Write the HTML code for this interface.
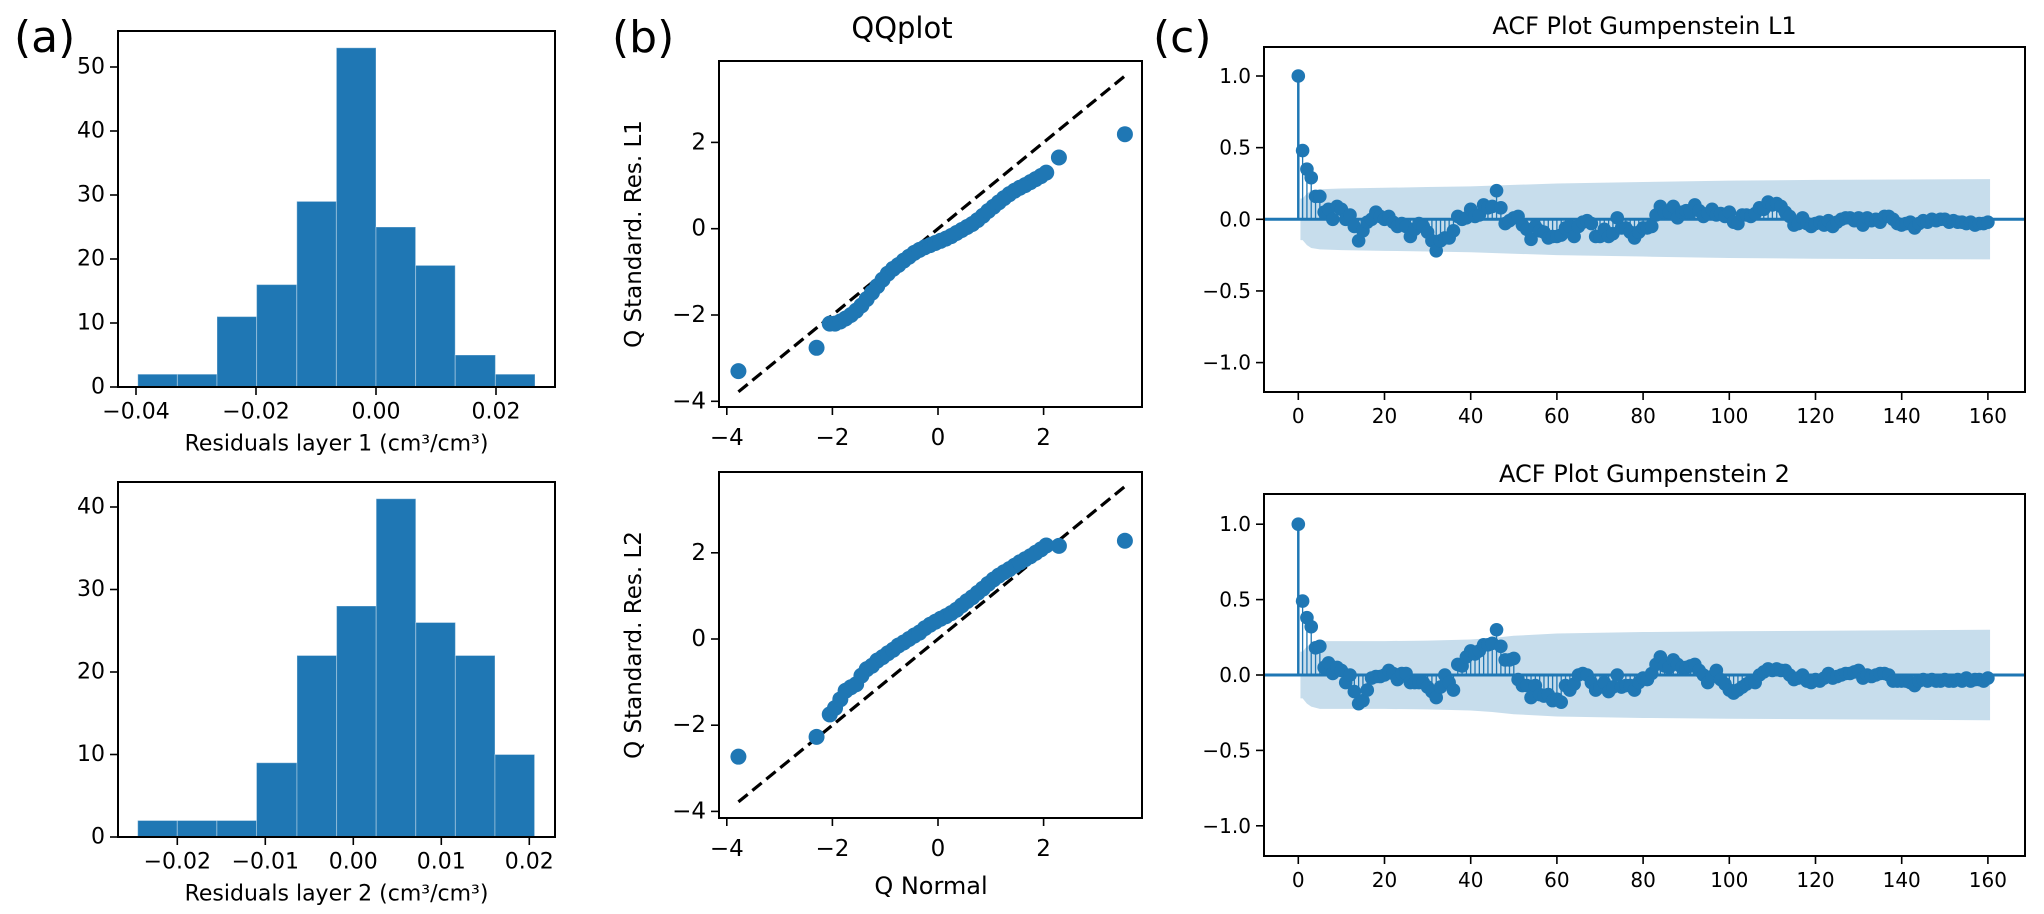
<!DOCTYPE html>
<html><head><meta charset="utf-8"><style>
html,body{margin:0;padding:0;background:#fff;}
svg{display:block;font-family:"DejaVu Sans","Liberation Sans",sans-serif;}
</style></head><body>
<svg id="fig" width="2044" height="914" viewBox="0 0 2044 914" xmlns="http://www.w3.org/2000/svg">
<text x="14" y="52" font-size="44">(a)</text>
<text x="612" y="52" font-size="44">(b)</text>
<text x="1153" y="52" font-size="44">(c)</text>
</svg>
<script>
// ---------- data ----------
const hist1Edges = [-0.0397,-0.0331,-0.0265,-0.0199,-0.0132,-0.0066,0.0000,0.0066,0.0132,0.0199,0.0265];
const hist1Counts = [2,2,11,16,29,53,25,19,5,2];
const hist2Edges = [-0.0245,-0.0200,-0.0155,-0.0110,-0.0064,-0.0019,0.0026,0.0071,0.0116,0.0161,0.0206];
const hist2Counts = [2,2,2,9,22,28,41,26,22,10];
const hist1XTicks = [-0.04,-0.02,0.00,0.02];
const hist1XTickLabels = ["−0.04","−0.02","0.00","0.02"];
const hist1YTicks = [0,10,20,30,40,50];
const hist2XTicks = [-0.02,-0.01,0.00,0.01,0.02];
const hist2XTickLabels = ["−0.02","−0.01","0.00","0.01","0.02"];
const hist2YTicks = [0,10,20,30,40];

const qq1X = [-3.78,-2.30,-2.05,-1.95,-1.85,-1.75,-1.65,-1.55,-1.45,-1.35,-1.25,-1.15,-1.05,-0.95,-0.85,-0.75,-0.65,-0.55,-0.45,-0.35,-0.25,-0.15,-0.05,0.05,0.15,0.25,0.35,0.45,0.55,0.65,0.75,0.85,0.95,1.05,1.15,1.25,1.35,1.45,1.55,1.65,1.75,1.85,1.95,2.05,2.29,3.54];
const qq1Y = [-3.30,-2.76,-2.2,-2.2,-2.15,-2.08,-2.0,-1.9,-1.78,-1.63,-1.48,-1.33,-1.18,-1.04,-0.93,-0.84,-0.74,-0.65,-0.56,-0.49,-0.43,-0.38,-0.33,-0.28,-0.23,-0.17,-0.1,-0.03,0.04,0.11,0.2,0.3,0.41,0.51,0.61,0.71,0.8,0.88,0.95,1.01,1.08,1.15,1.22,1.3,1.65,2.19];
const qq2X = [-3.78,-2.30,-2.05,-1.95,-1.85,-1.75,-1.65,-1.55,-1.45,-1.35,-1.25,-1.15,-1.05,-0.95,-0.85,-0.75,-0.65,-0.55,-0.45,-0.35,-0.25,-0.15,-0.05,0.05,0.15,0.25,0.35,0.45,0.55,0.65,0.75,0.85,0.95,1.05,1.15,1.25,1.35,1.45,1.55,1.65,1.75,1.85,1.95,2.05,2.29,3.54];
const qq2Y = [-2.73,-2.27,-1.75,-1.6,-1.4,-1.2,-1.12,-1.05,-0.85,-0.7,-0.62,-0.5,-0.42,-0.33,-0.25,-0.15,-0.08,0.0,0.08,0.15,0.25,0.33,0.4,0.47,0.53,0.6,0.68,0.78,0.88,0.97,1.07,1.17,1.28,1.38,1.47,1.55,1.62,1.7,1.78,1.85,1.92,2.0,2.08,2.17,2.16,2.28];
const qqLine = [-3.78,3.54];
const qqTicks = [-4,-2,0,2];
const qqTickLabels = ["−4","−2","0","2"];

const acf1 = [1.0,0.48,0.35,0.29,0.16,0.16,0.05,0.07,0.0,0.09,0.07,0.0,0.03,-0.05,-0.15,-0.08,-0.02,0.0,0.05,0.02,
0.0,0.02,-0.02,-0.05,-0.03,-0.05,-0.12,-0.07,-0.03,-0.05,-0.09,-0.15,-0.22,-0.15,-0.13,-0.13,-0.08,0.02,0.0,0.01,
0.07,0.02,0.03,0.1,0.08,0.09,0.2,0.08,-0.03,-0.01,0.01,0.02,-0.04,-0.07,-0.14,-0.05,-0.08,-0.09,-0.13,-0.12,
-0.12,-0.11,-0.06,-0.05,-0.12,-0.05,-0.02,-0.01,-0.03,-0.12,-0.12,-0.07,-0.12,-0.1,0.01,-0.06,-0.06,-0.09,-0.13,-0.09,
-0.06,-0.06,-0.05,0.03,0.09,0.05,0.05,0.09,0.01,0.05,0.06,0.05,0.1,0.06,0.02,0.04,0.07,0.03,0.04,0.02,
0.05,-0.02,-0.03,0.03,0.03,0.02,0.04,0.08,0.07,0.12,0.1,0.11,0.09,0.05,0.02,-0.04,-0.03,0.01,-0.03,-0.05,
-0.03,-0.02,-0.04,-0.01,-0.05,-0.02,0.0,0.01,0.01,-0.01,0.01,-0.04,0.01,-0.01,0.0,-0.02,0.02,0.02,0.0,-0.03,
-0.04,-0.03,-0.02,-0.06,-0.03,-0.01,-0.02,0.0,-0.01,0.0,0.0,-0.02,-0.01,-0.02,-0.02,-0.03,-0.02,-0.04,-0.03,-0.03,-0.02];
const acf2 = [1.0,0.49,0.38,0.32,0.18,0.19,0.05,0.08,0.01,0.05,0.03,-0.05,0.0,-0.11,-0.19,-0.17,-0.1,-0.02,-0.01,-0.01,
0.0,0.03,0.01,-0.03,0.01,0.01,-0.05,-0.05,-0.05,-0.05,-0.08,-0.11,-0.15,-0.08,0.0,-0.05,-0.1,0.07,0.06,0.12,
0.16,0.14,0.16,0.2,0.2,0.21,0.3,0.19,0.1,0.1,0.11,-0.03,-0.07,-0.07,-0.15,-0.07,-0.13,-0.14,-0.13,-0.17,
-0.16,-0.18,-0.07,-0.1,-0.06,0.0,0.01,0.0,-0.05,-0.1,-0.08,-0.05,-0.11,-0.08,0.0,-0.08,-0.07,-0.07,-0.1,-0.05,
-0.02,-0.03,0.01,0.07,0.12,0.06,0.05,0.1,0.07,0.05,0.05,0.06,0.07,0.03,0.0,-0.05,-0.01,0.03,-0.03,-0.06,
-0.1,-0.12,-0.1,-0.08,-0.06,-0.04,-0.05,0.0,0.02,0.04,0.03,0.04,0.03,0.03,0.0,-0.03,-0.02,0.0,-0.04,-0.05,
-0.03,-0.04,-0.02,0.01,-0.02,-0.01,0.0,0.01,0.01,0.02,0.03,-0.02,0.0,-0.01,0.0,0.01,0.01,0.0,-0.04,-0.04,
-0.04,-0.04,-0.05,-0.07,-0.04,-0.03,-0.04,-0.03,-0.04,-0.04,-0.03,-0.04,-0.04,-0.03,-0.04,-0.02,-0.04,-0.03,-0.03,-0.04,-0.02];
const band1Lags = [0.5,1,2,3,5,10,20,30,40,50,60,80,100,120,160,160.5];
const band1Half = [0.145,0.145,0.18,0.2,0.21,0.215,0.22,0.225,0.23,0.24,0.25,0.26,0.27,0.275,0.28,0.28];
const band2Lags = [0.5,1,2,3,5,10,20,30,40,45,50,60,80,100,160,160.5];
const band2Half = [0.155,0.155,0.19,0.21,0.225,0.225,0.225,0.228,0.235,0.245,0.26,0.275,0.285,0.29,0.30,0.30];
const acfXTicks = [0,20,40,60,80,100,120,140,160];
const acfYTicks = [1.0,0.5,0.0,-0.5,-1.0];
const acfYTickLabels = ["1.0","0.5","0.0","−0.5","−1.0"];

// ---------- drawing ----------
const NS = "http://www.w3.org/2000/svg";
const svg = document.getElementById("fig");
const BLUE = "#1f77b4";
function mk(tag, attrs, parent){
  const e = document.createElementNS(NS, tag);
  for (const k in attrs) e.setAttribute(k, attrs[k]);
  (parent||svg).appendChild(e);
  return e;
}
function txt(s, x, y, size, anchor, parent){
  const t = mk("text", {x:x, y:y, "font-size":size, "text-anchor":anchor||"middle", "dominant-baseline":"central", fill:"#000"}, parent);
  t.textContent = s;
  return t;
}
function frame(g, x0, y0, x1, y1){
  const r = mk("rect", {x:x0, y:y0, width:x1-x0, height:y1-y0, fill:"none", stroke:"#000", "stroke-width":2}, g);
  
  
}
function xTicks(g, vals, labels, sx, yb, size, dy){
  vals.forEach((v,i)=>{
    const x = sx(v);
    const l = mk("line", {x1:x, x2:x, y1:yb, y2:yb+8, stroke:"#000", "stroke-width":1.6}, g);
    
    
    const t = txt(labels[i], x, yb+dy, size, "middle", g);
    
    
  });
}
function yTicks(g, vals, labels, sy, xl, size){
  vals.forEach((v,i)=>{
    const y = sy(v);
    const l = mk("line", {x1:xl-8, x2:xl, y1:y, y2:y, stroke:"#000", "stroke-width":1.6}, g);
    
    
    const t = txt(labels[i], xl-13, y, size, "end", g);
    
    
  });
}

// Histograms
function hist(name, edges, counts, sx, sy, box, xt, xtl, yt, xlabel, tickY, labelY){
  const g = mk("g", {});
  
  
  counts.forEach((c,i)=>{
    const x0 = sx(edges[i]), x1 = sx(edges[i+1]);
    const r = mk("rect", {x:x0, y:sy(c), width:x1-x0, height:sy(0)-sy(c), fill:BLUE, stroke:"rgba(255,255,255,0.35)", "stroke-width":1}, g);
    
    
  });
  frame(g, box[0], box[1], box[2], box[3]);
  xTicks(g, xt, xtl, sx, box[3], 22, tickY);
  yTicks(g, yt, yt.map(String), sy, box[0], 22);
  const xl = txt(xlabel, (box[0]+box[2])/2, labelY, 22, "middle", g);
  
  
}
hist("histogram-layer-1", hist1Edges, hist1Counts, v=>376+v*6000, c=>387-c*6.4, [118,31,555,387],
  hist1XTicks, hist1XTickLabels, hist1YTicks, "Residuals layer 1 (cm³/cm³)", 25, 444);
hist("histogram-layer-2", hist2Edges, hist2Counts, v=>353.3+v*8800, c=>837-c*8.25, [118,482,555,837],
  hist2XTicks, hist2XTickLabels, hist2YTicks, "Residuals layer 2 (cm³/cm³)", 25, 894);

// QQ plots
function qq(name, xs, ys, sx, sy, box, ylabel, tickDy){
  const g = mk("g", {});
  
  
  const ln = mk("line", {x1:sx(qqLine[0]), y1:sy(qqLine[0]), x2:sx(qqLine[1]), y2:sy(qqLine[1]), stroke:"#000", "stroke-width":3.2, "stroke-dasharray":"12,6"}, g);
  
  
  xs.forEach((x,i)=>{
    const c = mk("circle", {cx:sx(x), cy:sy(ys[i]), r:8, fill:BLUE}, g);
    
    
  });
  frame(g, box[0], box[1], box[2], box[3]);
  xTicks(g, qqTicks, qqTickLabels, sx, box[3], 23, tickDy);
  yTicks(g, qqTicks, qqTickLabels, sy, box[0], 23);
  const yl = txt(ylabel, 0, 0, 23, "middle", g);
  yl.setAttribute("transform", "translate(634," + ((box[1]+box[3])/2) + ") rotate(-90)");
  
  
}
const qsx = v=>938+v*52.8;
qq("qq-plot-l1", qq1X, qq1Y, qsx, v=>228.7-v*43.15, [719,61,1142,407], "Q Standard. Res. L1", 31);
qq("qq-plot-l2", qq2X, qq2Y, qsx, v=>639-v*43.1, [719,472,1142,818], "Q Standard. Res. L2", 31);
const qt = txt("QQplot", 902, 28, 29, "middle");


const qxl = txt("Q Normal", 931, 886, 24, "middle");



// ACF plots
function acfPlot(name, vals, bl, bh, sy, box, title, titleY){
  const sx = l=>1298.3+l*4.31;
  const g = mk("g", {});
  
  
  let pts = bl.map((l,i)=>sx(l)+","+sy(bh[i]));
  for (let i=bl.length-1;i>=0;i--) pts.push(sx(bl[i])+","+sy(-bh[i]));
  const band = mk("polygon", {points:pts.join(" "), fill:BLUE, "fill-opacity":0.25}, g);
  
  
  const base = mk("line", {x1:box[0], x2:box[2], y1:sy(0), y2:sy(0), stroke:BLUE, "stroke-width":3}, g);
  
  
  vals.forEach((v,i)=>{
    const s = mk("line", {x1:sx(i), x2:sx(i), y1:sy(0), y2:sy(v), stroke:BLUE, "stroke-width":i===0?2.5:1.3}, g);
    
    
  });
  vals.forEach((v,i)=>{
    const c = mk("circle", {cx:sx(i), cy:sy(v), r:6.8, fill:BLUE}, g);
    
    
  });
  frame(g, box[0], box[1], box[2], box[3]);
  xTicks(g, acfXTicks, acfXTicks.map(String), sx, box[3], 20, 24);
  yTicks(g, acfYTicks, acfYTickLabels, sy, box[0], 20);
  const t = txt(title, (box[0]+box[2])/2, titleY, 24, "middle", g);
  
  
}
acfPlot("acf-plot-l1", acf1, band1Lags, band1Half, v=>219.3-v*143.3, [1264,47,2025,392], "ACF Plot Gumpenstein L1", 26);
acfPlot("acf-plot-l2", acf2, band2Lags, band2Half, v=>675-v*150.8, [1264,494,2025,856], "ACF Plot Gumpenstein 2", 474);
</script>
</body></html>
